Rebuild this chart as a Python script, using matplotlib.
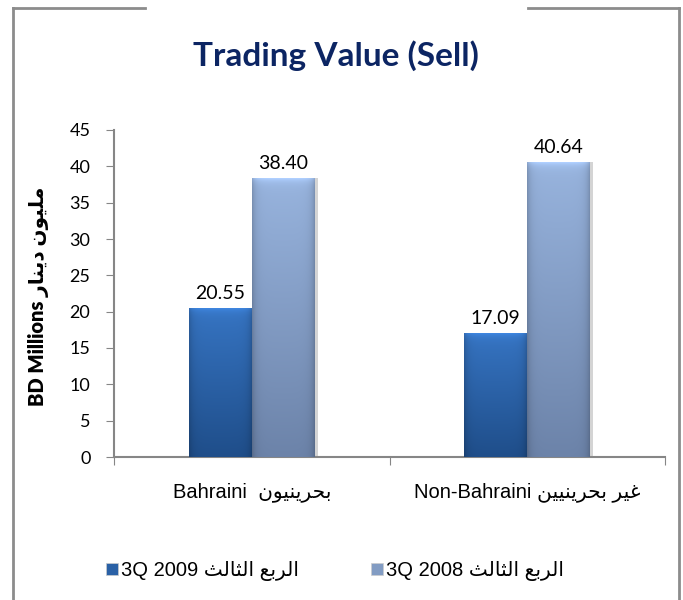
import numpy as np
import matplotlib
matplotlib.use('Agg')
import matplotlib.pyplot as plt
from matplotlib.lines import Line2D
from matplotlib.patches import Rectangle

# ---------- data ----------
# Arabic strings are written as presentation forms in visual (left-to-right) order,
# since matplotlib does no shaping or bidi
AR_BAHRAINI = '\uFEE5\uFEEE\uFEF4\uFEE8\uFEF3\uFEAE\uFEA4\uFE91'                    # بحرينيون
AR_NON_BAHRAINI = ('\uFEE6\uFEF4\uFEF4\uFEE8\uFEF3\uFEAE\uFEA4\uFE91'
                   ' \uFEAE\uFEF4\uFECF')                                             # غير بحرينيين
AR_MILLIONS = '\uFEAD\uFE8E\uFEE8\uFEF3\uFEA9 \uFEE5\uFEEE\uFEF4\uFEE0\uFEE3'         # مليون دينار
AR_QUARTER = ('\uFE9A\uFEDF\uFE8E\uFE9C\uFEDF\uFE8D'
              ' \uFECA\uFE91\uFEAE\uFEDF\uFE8D')                                      # الربع الثالث

categories = ['Bahraini  ' + AR_BAHRAINI, 'Non-Bahraini ' + AR_NON_BAHRAINI]
series_names = ['3Q 2009 ' + AR_QUARTER, '3Q 2008 ' + AR_QUARTER]
values_2009 = [20.55, 17.09]
values_2008 = [38.40, 40.64]
y_ticks = [0, 5, 10, 15, 20, 25, 30, 35, 40, 45]

# ---------- style ----------
W, H = 683, 600
DPI = 100
AXIS_GRAY = '#868686'
FRAME_GRAY = '#8c8c8c'
TITLE_COLOR = '#0c2563'
BAR_WIDTH = 0.228
SHADES = [  # (top, bottom) colours of each series
    ('#3674c2', '#1f4e8a'),
    ('#98b4de', '#6c83a9'),
]
LATIN_ARABIC = ['Liberation Sans', 'DejaVu Sans']
NUM_FONT = ['Lato', 'DejaVu Sans']


def hex_rgb(c):
    return np.array(matplotlib.colors.to_rgb(c))


def shade_bar(ax, rect, top, bottom, px_per_unit):
    """paint a bevelled vertical gradient inside a bar"""
    x, y = rect.get_x(), rect.get_y()
    w, h = rect.get_width(), rect.get_height()
    ny = max(int(round(h * px_per_unit)), 2)
    nx = 64
    t = np.linspace(0, 1, ny)[:, None, None]
    col = hex_rgb(bottom) * (1 - t) + hex_rgb(top) * t
    col = np.repeat(col, nx, axis=1)
    # darker side edges
    s = np.linspace(0, 1, nx)
    side = 1 - 0.18 * (np.exp(-s / 0.06) + np.exp(-(1 - s) / 0.06))
    col = col * side[None, :, None]
    # light bevel along the top
    rows = np.arange(ny)[::-1]
    bevel = 1 + 0.2 * np.exp(-rows / 4.0)
    col = np.clip(col * bevel[:, None, None], 0, 1)
    im = ax.imshow(col, extent=[x, x + w, y, y + h], origin='lower',
                   aspect='auto', zorder=3, interpolation='bilinear')
    im.set_clip_path(rect)


fig = plt.figure(figsize=(W / DPI, H / DPI), dpi=DPI)
ax = fig.add_axes([114 / W, 1 - 457 / H, (665 - 114) / W, (457 - 130) / H])

x = np.arange(len(categories))
series = [values_2009, values_2008]
offsets = [-BAR_WIDTH / 2, BAR_WIDTH / 2]
px_per_unit = (457 - 130) / 45
handles = []
for vals, off, (top, bot), name in zip(series, offsets, SHADES, series_names):
    bars = ax.bar(x + off, vals, BAR_WIDTH, color=top, zorder=2, label=name,
                  edgecolor='none')
    for b in bars:
        # faint shadow on the right
        ax.add_patch(Rectangle((b.get_x() + b.get_width(), 0), 0.012, b.get_height(),
                               color='#d4d4d4', zorder=1, lw=0))
        shade_bar(ax, b, top, bot, px_per_unit)
    handles.append(Rectangle((0, 0), 1, 1, facecolor=matplotlib.colors.to_hex(
        (hex_rgb(top) + hex_rgb(bot)) / 2), edgecolor='#cccccc', lw=0.5))

# value labels above each bar
for vals, off in zip(series, offsets):
    for xi, v in zip(x, vals):
        ax.text(xi + off, v + 0.8, f'{v:.2f}', ha='center', va='bottom',
                fontsize=14, family=NUM_FONT, color='black')

ax.set_xlim(-0.5, 1.5)
ax.set_ylim(0, 45)
ax.set_yticks(y_ticks)
ax.set_yticklabels([str(t) for t in y_ticks], family=NUM_FONT, fontsize=13)
ax.set_xticks([-0.5, 0.5, 1.5])
ax.set_xticklabels([])
ax.tick_params(axis='y', direction='out', length=6, color=AXIS_GRAY, pad=11)
ax.tick_params(axis='x', direction='out', length=6, color=AXIS_GRAY)
for side in ['top', 'right']:
    ax.spines[side].set_visible(False)
for side in ['left', 'bottom']:
    ax.spines[side].set_color(AXIS_GRAY)
    ax.spines[side].set_linewidth(1.5)

# category labels below the axis
for xi, cat in zip(x, categories):
    ax.text(xi, -4.9, cat, ha='center', va='center', fontsize=14.5,
            family=LATIN_ARABIC)

ax.set_ylabel('BD Millions ' + AR_MILLIONS, fontsize=14.5, fontweight='heavy',
              family=['Lato', 'DejaVu Sans'])
ax.yaxis.set_label_coords((49 - 114) / 551, 0.49)

fig.text(336 / W, 1 - 56 / H, 'Trading Value (Sell)', ha='center', va='center',
         fontsize=24, fontweight='bold', family=['Lato', 'DejaVu Sans'],
         color=TITLE_COLOR)

leg = fig.legend(handles, series_names, loc='center', ncol=2,
                 bbox_to_anchor=(335 / W, 1 - 571 / H), frameon=False,
                 prop={'family': LATIN_ARABIC, 'size': 14.5},
                 handlelength=0.6, handleheight=0.6, handletextpad=0.15,
                 columnspacing=3.6)

# outer frame with a gap behind the title
frame = dict(color=FRAME_GRAY, lw=2, transform=fig.transFigure)
for xs, ys in [([13 / W, 13 / W], [0, 1 - 8 / H]),
               ([679 / W, 679 / W], [0, 1 - 8 / H]),
               ([13 / W, 145 / W], [1 - 8 / H, 1 - 8 / H]),
               ([528 / W, 679 / W], [1 - 8 / H, 1 - 8 / H])]:
    fig.add_artist(Line2D(xs, ys, **frame))

fig.savefig('out.png', dpi=DPI)
